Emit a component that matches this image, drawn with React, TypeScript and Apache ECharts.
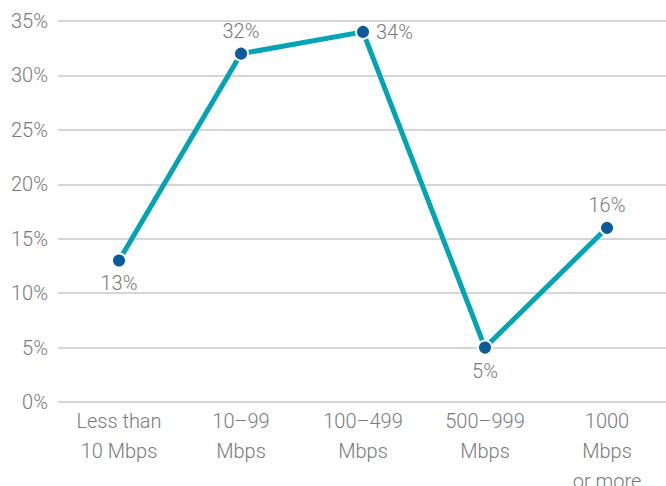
import React, { useEffect, useRef } from "react";
import * as echarts from "echarts";

const categories = ["Less than\n10 Mbps", "10–99\nMbps", "100–499\nMbps", "500–999\nMbps", "1000\nMbps\nor more"];
const values = [13, 32, 34, 5, 16];
const labelPositions = ["bottom", "top", "right", "bottom", "top"];

const FONT = "Roboto, sans-serif";
const WEIGHT = 300;

export default function App() {
  const ref = useRef<HTMLDivElement>(null);
  useEffect(() => {
    if (!ref.current) return;
    const chart = echarts.init(ref.current, undefined, { renderer: "svg" });
    chart.setOption({
      animation: false,
      grid: { left: 58, right: -2, top: 21, bottom: 84, containLabel: false, outerBoundsMode: "none" },
      xAxis: {
        type: "category",
        data: categories,
        axisLine: { show: false },
        axisTick: { show: false },
        axisLabel: {
          color: "#7a7a7a",
          fontFamily: FONT,
          fontWeight: WEIGHT,
          fontSize: 20,
          lineHeight: 30,
          margin: 4,
          interval: 0,
        },
      },
      yAxis: {
        type: "value",
        min: 0,
        max: 35,
        interval: 5,
        axisLabel: {
          formatter: "{value}%",
          color: "#7a7a7a",
          fontFamily: FONT,
          fontWeight: WEIGHT,
          fontSize: 20,
          margin: 10,
        },
        splitLine: { lineStyle: { color: "#c8c8c8", width: 1.5 } },
        axisLine: { show: false },
        axisTick: { show: false },
      },
      series: [
        {
          type: "line",
          data: values.map((v, i) => ({
            value: v,
            label: { position: labelPositions[i] },
          })),
          lineStyle: { color: "#00a4b4", width: 5 },
          symbol: "circle",
          symbolSize: 14,
          itemStyle: { color: "#0a5b9c", borderColor: "#ffffff", borderWidth: 2 },
          label: {
            show: true,
            formatter: "{c}%",
            color: "#7a7a7a",
            fontFamily: FONT,
            fontWeight: WEIGHT,
            fontSize: 20,
            distance: 5,
          },
        },
      ],
    });
    return () => chart.dispose();
  }, []);
  return (
    <div
      ref={ref}
      style={{ position: "fixed", left: 0, top: 0, width: 666, height: 486, background: "#fff" }}
    />
  );
}
